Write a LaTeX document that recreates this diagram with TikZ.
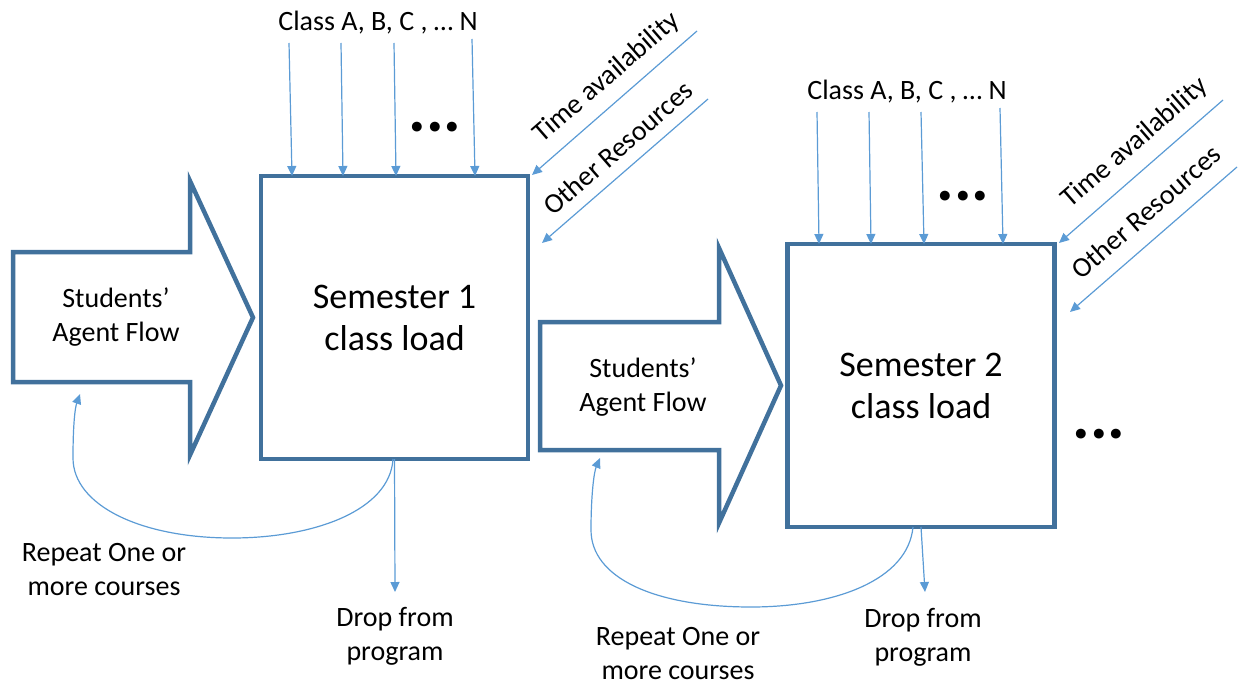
\documentclass[tikz,border=0pt]{standalone}
\usepackage{fontspec}
\setmainfont{Carlito}
\usetikzlibrary{arrows.meta}
\definecolor{boxblue}{HTML}{41719C}
\definecolor{linkblue}{HTML}{5B9BD5}
\tikzset{
  semester/.style={draw=boxblue, line width=4.5pt, fill=white, minimum width=267pt, minimum height=283pt,
    inner sep=0pt, outer sep=0pt, align=center, font=\fontsize{36}{42}\selectfont},
  flowarrow/.style={draw=boxblue, line width=4.5pt, fill=white, line join=miter},
  lbl/.style={inner sep=0pt, align=center, font=\fontsize{28}{34}\selectfont},
  bigdots/.style={inner sep=0pt, anchor=base, font=\fontsize{66}{66}\selectfont\bfseries},
  link/.style={draw=linkblue, line width=1.2pt, -{Triangle[length=10pt,width=9pt]}}
}
\begin{document}
\begin{tikzpicture}[x=1pt,y=-1pt]
\useasboundingbox (0,0) rectangle (1238,685);

% ---------- block arrows ----------
\draw[flowarrow] (13,252) -- (190,252) -- (190,181) -- (253,317.5) -- (190,455) -- (190,382) -- (13,382) -- cycle;
\node[lbl] (flow1) at (116,317.5) {Students’\\Agent Flow};

\draw[flowarrow] (540,322) -- (719,322) -- (719,248) -- (781,385.5) -- (719,523) -- (719,450) -- (540,450) -- cycle;
\node[lbl] (flow2) at (643,387.5) {Students’\\Agent Flow};

% ---------- semester boxes ----------
\node[semester] (box1) at (394.5,317.5) {Semester 1\\class load};
\node[semester] (box2) at (921,385.5) {Semester 2\\class load};

% ---------- semester 1 inputs ----------
\node[lbl] (cls1) at (378,23) {Class A, B, C , … N};
\coordinate (c11) at (289,43);
\coordinate (c12) at (341,43);
\coordinate (c13) at (394,43);
\coordinate (c14) at (472,39);
\draw[link] (c11) -- ([xshift=3pt]c11 |- box1.north);
\draw[link] (c12) -- ([xshift=2pt]c12 |- box1.north);
\draw[link] (c13) -- ([xshift=2pt]c13 |- box1.north);
\draw[link] (c14) -- ([xshift=3pt]c14 |- box1.north);
\node[bigdots] (dots1) at (435,131) {...};

\coordinate (t1s) at (697,31);
\coordinate (t1e) at (532,175);
\coordinate (o1s) at (708,99);
\coordinate (o1e) at (542,243);
\draw[link] (t1s) -- (t1e);
\draw[link] (o1s) -- (o1e);
\node[lbl, rotate=41] (ta1) at (607,78) {Time availability};
\node[lbl, rotate=41] (or1) at (618,148) {Other Resources};

% ---------- semester 2 inputs ----------
\node[lbl] (cls2) at (907,92) {Class A, B, C , … N};
\coordinate (c21) at (817,112);
\coordinate (c22) at (869,112);
\coordinate (c23) at (921,112);
\coordinate (c24) at (1000,108);
\draw[link] (c21) -- ([xshift=2pt]c21 |- box2.north);
\draw[link] (c22) -- ([xshift=2pt]c22 |- box2.north);
\draw[link] (c23) -- ([xshift=3pt]c23 |- box2.north);
\draw[link] (c24) -- ([xshift=3pt]c24 |- box2.north);
\node[bigdots] (dots2) at (963,200) {...};

\coordinate (t2s) at (1223,100);
\coordinate (t2e) at (1059,243);
\coordinate (o2s) at (1237,167);
\coordinate (o2e) at (1070,312);
\draw[link] (t2s) -- (t2e);
\draw[link] (o2s) -- (o2e);
\node[lbl, rotate=41] (ta2) at (1135,143) {Time availability};
\node[lbl, rotate=41] (or2) at (1146,212) {Other Resources};

\node[bigdots] (dots3) at (1099,438) {...};

% ---------- outputs of semester 1 ----------
\coordinate (d1e) at (395,592);
\draw[link] (box1.south) -- (d1e);
\node[lbl] (drop1) at (395,636.5) {Drop from\\program};

\coordinate (r1s) at ([xshift=-1.5pt]box1.south);
\coordinate (r1m) at (232,538);
\coordinate (r1e) at (80,394);
\draw[link] (r1s) .. controls (390,510) and (315,538) .. (r1m)
  .. controls (140,538) and (73,505) .. (73,458)
  .. controls (73,425) and (75,408) .. (r1e);
\node[lbl] (rep1) at (104,569.5) {Repeat One or\\more courses};

% ---------- outputs of semester 2 ----------
\coordinate (d2e) at (925,592);
\draw[link] (box2.south) -- (d2e);
\node[lbl] (drop2) at (923,637) {Drop from\\program};

\coordinate (r2s) at ([xshift=-8pt]box2.south);
\coordinate (r2m) at (751,607);
\coordinate (r2e) at (600,458);
\draw[link] (r2s) .. controls (908,580) and (835,607) .. (r2m)
  .. controls (655,607) and (591,578) .. (591,530)
  .. controls (591,495) and (594,472) .. (r2e);
\node[lbl] (rep2) at (678,653.5) {Repeat One or\\more courses};
\end{tikzpicture}
\end{document}
